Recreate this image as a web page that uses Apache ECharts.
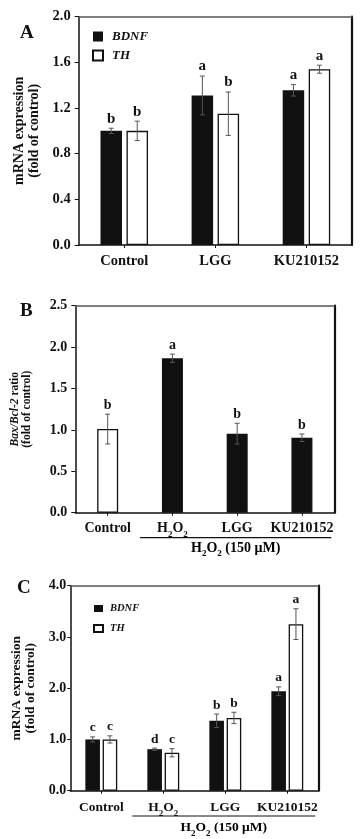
<!DOCTYPE html>
<html>
<head>
<meta charset="utf-8">
<script src="https://cdn.jsdelivr.net/npm/echarts@6/dist/echarts.min.js"></script>
<style>
html,body{margin:0;padding:0;background:#fff;}
#chart{width:363px;height:839px;}
</style>
</head>
<body>
<div id="chart"></div>
<script>
// ---------- DATA ----------
const categoriesA = ['Control', 'LGG', 'KU210152'];
const bdnfA = [1.00, 1.31, 1.355];
const bdnfAErr = [0.023, 0.17, 0.05];
const bdnfALetters = ['b', 'a', 'a'];
const thA = [1.00, 1.15, 1.54];
const thAErr = [0.085, 0.19, 0.035];
const thALetters = ['b', 'b', 'a'];
const ticksA = [0, 2.0, 0.4];

const categoriesB = ['Control', 'H2O2', 'LGG', 'KU210152'];
const ratioB = [1.01, 1.865, 0.955, 0.905];
const ratioBErr = [0.18, 0.05, 0.125, 0.045];
const ratioBLetters = ['b', 'a', 'b', 'b'];
const ticksB = [0, 2.5, 0.5];

const categoriesC = ['Control', 'H2O2', 'LGG', 'KU210152'];
const bdnfC = [1.00, 0.81, 1.365, 1.94];
const bdnfCErr = [0.05, 0.02, 0.13, 0.085];
const bdnfCLetters = ['c', 'd', 'b', 'a'];
const thC = [1.00, 0.74, 1.42, 3.25];
const thCErr = [0.07, 0.08, 0.11, 0.30];
const thCLetters = ['c', 'c', 'b', 'a'];
const ticksC = [0, 4.0, 1.0];

const groupLabel = 'H2O2 (150 μM)';

// ---------- LAYOUT / STYLE ----------
const FONT = '"Liberation Serif", "Times New Roman", serif';
const grids = [
  {left: 78.7, top: 16.7, width: 273.3, height: 228.3},
  {left: 75.3, top: 305.7, width: 259, height: 207},
  {left: 70.3, top: 585.7, width: 248, height: 205}
];

function h2o2Rich(size) {
  return {
    b: {fontFamily: FONT, fontWeight: 'bold', fontSize: size, lineHeight: 20, color: '#111'},
    s: {fontFamily: FONT, fontWeight: 'bold', fontSize: Math.round(size * 0.65), lineHeight: 11, verticalAlign: 'bottom', color: '#111'}
  };
}
function catFormatter(v) {
  if (v === 'H2O2') return '{b|H}{s|2}{b|O}{s|2}';
  return '{b|' + v + '}';
}

function axesFor(g, cats, ticks, opts) {
  const xs = [
    {type: 'category', gridIndex: g, data: cats, position: 'bottom',
     axisLine: {show: true, onZero: false, lineStyle: {color: '#111', width: 1.5}},
     axisTick: {show: true, alignWithLabel: true, length: 3, lineStyle: {color: '#111'}},
     axisLabel: {margin: opts.xMargin, formatter: catFormatter, rich: h2o2Rich(opts.xFont), interval: 0},
     splitLine: {show: false}},
    {type: 'category', gridIndex: g, data: cats, position: 'top',
     axisLine: {show: true, onZero: false, lineStyle: {color: '#555', width: 1.5}},
     axisTick: {show: false}, axisLabel: {show: false}, splitLine: {show: false}}
  ];
  const ys = [
    {type: 'value', gridIndex: g, min: ticks[0], max: ticks[1], interval: ticks[2], position: 'left',
     name: opts.yName, nameLocation: 'middle', nameGap: opts.nameGap, nameRotate: 90,
     nameTextStyle: {fontFamily: FONT, fontWeight: 'bold', fontSize: opts.nameFont, lineHeight: opts.nameLH, color: '#111',
       rich: {i: {fontFamily: FONT, fontWeight: 'bold', fontStyle: 'italic', fontSize: opts.nameFont, lineHeight: opts.nameLH, color: '#111'}}},
     axisLine: {show: true, onZero: false, lineStyle: {color: '#111', width: 1.5}},
     axisTick: {show: true, inside: false, length: opts.tickLen, lineStyle: {color: '#111'}},
     axisLabel: {margin: opts.yMargin, fontFamily: FONT, fontWeight: 'bold', fontSize: opts.yFont, color: '#111',
       formatter: v => v.toFixed(1)},
     splitLine: {show: false}},
    {type: 'value', gridIndex: g, min: ticks[0], max: ticks[1], interval: ticks[2], position: 'right',
     axisLine: {show: true, onZero: false, lineStyle: {color: '#111', width: 2.2}},
     axisTick: {show: false}, axisLabel: {show: false}, splitLine: {show: false}}
  ];
  return {xs, ys};
}

function errSeries(xi, yi, values, errs, letters, offset, fontSize) {
  return {
    type: 'custom', xAxisIndex: xi, yAxisIndex: yi, z: 10, silent: true, clip: false,
    data: values.map((v, i) => [i, v, errs[i]]),
    renderItem: function (params, api) {
      const i = api.value(0), v = api.value(1), e = api.value(2);
      const top = api.coord([i, v + e]);
      const bot = api.coord([i, v - e]);
      const x = top[0] + offset;
      const cap = 2.5;
      const st = {stroke: '#555', lineWidth: 1};
      return {type: 'group', children: [
        {type: 'line', shape: {x1: x, y1: top[1], x2: x, y2: bot[1]}, style: st},
        {type: 'line', shape: {x1: x - cap, y1: top[1], x2: x + cap, y2: top[1]}, style: st},
        {type: 'line', shape: {x1: x - cap, y1: bot[1], x2: x + cap, y2: bot[1]}, style: st},
        {type: 'text', x: x, y: top[1] - 2, style: {text: letters[params.dataIndex], textAlign: 'center', textVerticalAlign: 'bottom',
          font: 'bold ' + fontSize + 'px ' + FONT, fill: '#111'}}
      ]};
    }
  };
}

const A = axesFor(0, categoriesA, ticksA, {xMargin: 6, xFont: 14.5, yName: 'mRNA expression\n(fold of control)', nameGap: 35, nameFont: 14, nameLH: 15, tickLen: 4, yMargin: 8, yFont: 14.5});
const B = axesFor(1, categoriesB, ticksB, {xMargin: 6, xFont: 14, yName: '{i|Bax/Bcl-2} ratio\n(fold of control)', nameGap: 42, nameFont: 11.5, nameLH: 12.5, tickLen: 4, yMargin: 8, yFont: 14});
const C = axesFor(2, categoriesC, ticksC, {xMargin: 7, xFont: 13.5, yName: 'mRNA expression\n(fold of control)', nameGap: 30, nameFont: 13.5, nameLH: 14, tickLen: 3, yMargin: 4, yFont: 14});

// x axis indices: A 0,1  B 2,3  C 4,5 ; y the same pattern
const blackStyle = {color: '#111'};
const whiteStyle = {color: '#fff', borderColor: '#111', borderWidth: 1.3};

const wA = 21.5, gA = 4.5, wB = 21, wC = 14.6, gC = 2.7;

const series = [
  {name: 'BDNF', type: 'bar', xAxisIndex: 0, yAxisIndex: 0, data: bdnfA, barWidth: wA, barGap: (gA / wA * 100) + '%', itemStyle: blackStyle},
  {name: 'TH', type: 'bar', xAxisIndex: 0, yAxisIndex: 0, data: thA, barWidth: wA, barGap: (gA / wA * 100) + '%', itemStyle: whiteStyle},
  errSeries(0, 0, bdnfA, bdnfAErr, bdnfALetters, -(wA + gA) / 2, 15),
  errSeries(0, 0, thA, thAErr, thALetters, (wA + gA) / 2, 15),

  {name: 'ratio', type: 'bar', xAxisIndex: 2, yAxisIndex: 2, data: ratioB, barWidth: wB,
   itemStyle: {color: p => p.dataIndex === 0 ? '#fff' : '#111', borderColor: '#111', borderWidth: 1.3}},
  errSeries(2, 2, ratioB, ratioBErr, ratioBLetters, 0, 14),

  {name: 'BDNF', type: 'bar', xAxisIndex: 4, yAxisIndex: 4, data: bdnfC, barWidth: wC, barGap: (gC / wC * 100) + '%', itemStyle: blackStyle},
  {name: 'TH', type: 'bar', xAxisIndex: 4, yAxisIndex: 4, data: thC, barWidth: wC, barGap: (gC / wC * 100) + '%', itemStyle: whiteStyle},
  errSeries(4, 4, bdnfC, bdnfCErr, bdnfCLetters, -(wC + gC) / 2, 13.5),
  errSeries(4, 4, thC, thCErr, thCLetters, (wC + gC) / 2, 13.5)
];

function groupGraphics(gi, fontSize, lineY, textY) {
  const g = grids[gi];
  const x1 = g.left + g.width / 4;
  const x2 = g.left + g.width - 3;
  const parts = groupLabel.split('H2O2');
  return [
    {type: 'line', shape: {x1: x1, y1: lineY, x2: x2, y2: lineY}, style: {stroke: '#111', lineWidth: 1.2}},
    {type: 'text', x: (x1 + x2) / 2, y: textY, style: {
      text: '{b|H}{s|2}{b|O}{s|2}{b|' + parts[1] + '}', textAlign: 'center', textVerticalAlign: 'middle',
      rich: h2o2Rich(fontSize)}}
  ];
}

const option = {
  animation: false,
  backgroundColor: '#fff',
  grid: grids.map(g => Object.assign({containLabel: false}, g)),
  xAxis: [].concat(A.xs, B.xs, C.xs),
  yAxis: [].concat(A.ys, B.ys, C.ys),
  legend: [
    {data: ['BDNF', 'TH'], left: 87, top: 25, orient: 'vertical', itemWidth: 10, itemHeight: 10, itemGap: 6,
     icon: 'rect', selectedMode: false,
     textStyle: {fontFamily: FONT, fontWeight: 'bold', fontStyle: 'italic', fontSize: 13, color: '#111', padding: [0, 0, 0, 4]}},
    {data: ['BDNF', 'TH'], left: 88, top: 598, orient: 'vertical', itemWidth: 9, itemHeight: 7, itemGap: 9,
     icon: 'rect', selectedMode: false,
     textStyle: {fontFamily: FONT, fontWeight: 'bold', fontStyle: 'italic', fontSize: 10.5, color: '#111', padding: [0, 0, 0, 2]}}
  ],
  series: series,
  graphic: [].concat(
    [
      {type: 'text', left: 20, top: 24, style: {text: 'A', font: 'bold 19px ' + FONT, fill: '#111'}},
      {type: 'text', left: 20, top: 302, style: {text: 'B', font: 'bold 19px ' + FONT, fill: '#111'}},
      {type: 'text', left: 17, top: 579, style: {text: 'C', font: 'bold 19px ' + FONT, fill: '#111'}}
    ],
    groupGraphics(1, 14, 537.7, 548),
    groupGraphics(2, 13.5, 816, 828)
  )
};

const chart = echarts.init(document.getElementById('chart'), null, {renderer: 'canvas'});
chart.setOption(option);
</script>
</body>
</html>
